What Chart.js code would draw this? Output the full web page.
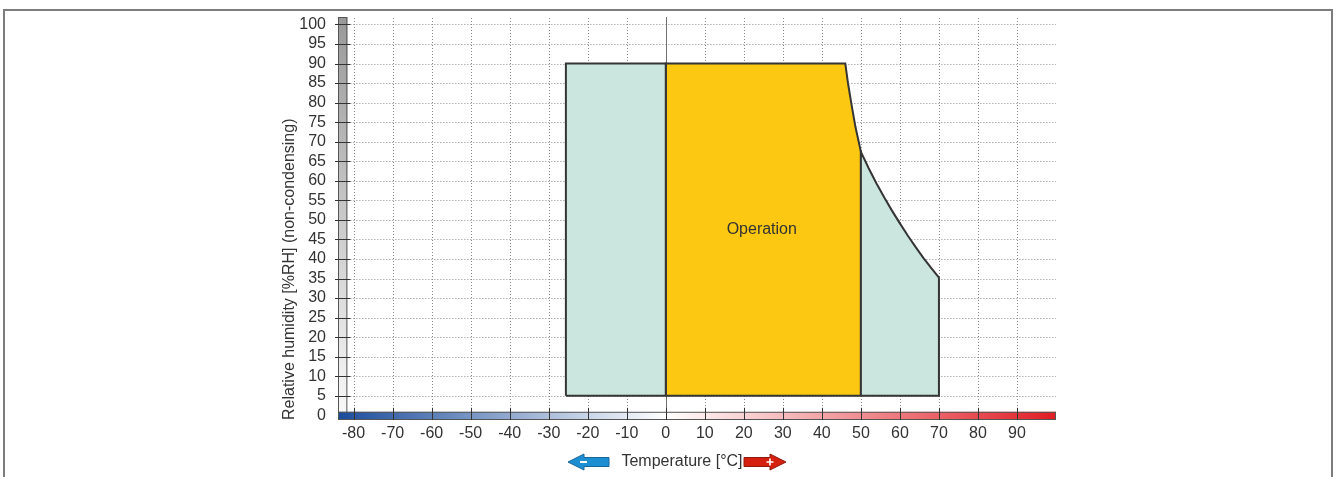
<!DOCTYPE html>
<html>
<head>
<meta charset="utf-8">
<script src="https://cdn.jsdelivr.net/npm/chart.js@4.4.0/dist/chart.umd.min.js"></script>
<style>
  html, body { margin: 0; padding: 0; background: #fff; }
  #wrap { position: relative; width: 1336px; height: 477px; overflow: hidden; }
  #frame { position: absolute; left: 3px; top: 9px; width: 1326px; height: 500px;
           border-top: 2px solid #7d7d7d; border-left: 2px solid #7d7d7d; border-right: 2px solid #7d7d7d; }
  canvas { position: absolute; left: 0; top: 0; }
</style>
</head>
<body>
<div id="wrap">
  <div id="frame"></div>
  <canvas id="c" width="1336" height="477"></canvas>
</div>
<script>
// ---- data ----
const xTicks = [-80, -70, -60, -50, -40, -30, -20, -10, 0, 10, 20, 30, 40, 50, 60, 70, 80, 90];
const yTicks = [0, 5, 10, 15, 20, 25, 30, 35, 40, 45, 50, 55, 60, 65, 70, 75, 80, 85, 90, 95, 100];

// storage (left part)
const storeLeftT  = [-25.6, -25.6, 0, 0, -25.6];
const storeLeftRH = [5, 90, 90, 5, 5];

// operation area
const operT  = [0, 0, 46, 46.7, 47.7, 48.6, 50, 50, 0];
const operRH = [5, 90, 90, 84.9, 78.9, 73.8, 67.4, 5, 5];

// storage (right part)
const storeRightT  = [50, 50, 52, 54, 56, 58, 60, 62, 64, 66, 68, 70, 70, 50];
const storeRightRH = [5, 67.4, 63.2, 59.3, 55.7, 52.3, 49.1, 46.0, 43.1, 40.3, 37.7, 35.2, 5, 5];

const areaLabel = 'Operation';
const areaLabelT = 24.6, areaLabelRH = 47.6;

const xTitle = 'Temperature [°C]';
const yTitle = 'Relative humidity [%RH] (non-condensing)';

const xMin = -84, xMax = 100, yMin = -1.2, yMax = 101.9;
const humBarEnd = -81.6;   // right edge of humidity scale bar (°C)
const tempBarTop = 0.9;    // top edge of temperature scale bar (%RH)

const FONT = "'Liberation Sans', Arial, sans-serif";
const TEXT = '#333';

function pts(xs, ys) { return xs.map((v, i) => ({x: v, y: ys[i]})); }

const decor = {
  id: 'decor',
  beforeDatasetsDraw(chart) {
    const {ctx, chartArea: a, scales: {x, y}} = chart;
    ctx.save();
    const gL = a.left, gR = x.getPixelForValue(humBarEnd);
    const tT = y.getPixelForValue(tempBarTop), tB = a.bottom;

    // dotted grid
    ctx.strokeStyle = '#8a8a8a'; ctx.lineWidth = 1; ctx.setLineDash([1, 2]);
    xTicks.forEach(v => {
      if (v === 0) return;
      const px = Math.round(x.getPixelForValue(v)) + 0.5;
      ctx.beginPath(); ctx.moveTo(px, a.top + 1); ctx.lineTo(px, tT); ctx.stroke();
    });
    yTicks.forEach(v => {
      if (v === 0) return;
      const py = Math.round(y.getPixelForValue(v)) + 0.5;
      ctx.beginPath(); ctx.moveTo(gR + 3, py); ctx.lineTo(a.right, py); ctx.stroke();
    });
    ctx.setLineDash([]);

    // zero line
    const x0 = Math.round(x.getPixelForValue(0)) + 0.5;
    ctx.strokeStyle = '#707070'; ctx.lineWidth = 1;
    ctx.beginPath(); ctx.moveTo(x0, a.top); ctx.lineTo(x0, a.bottom); ctx.stroke();

    // humidity bar (gray gradient)
    const gT = a.top, gB = a.bottom;
    let g = ctx.createLinearGradient(0, gT, 0, gB);
    g.addColorStop(0, '#999999'); g.addColorStop(1, '#fafafa');
    ctx.fillStyle = g;
    ctx.fillRect(gL, gT, gR - gL, gB - gT);
    ctx.strokeStyle = '#555'; ctx.lineWidth = 1;
    ctx.strokeRect(gL + 0.5, gT + 0.5, gR - gL - 1, gB - gT - 1);

    // temperature bar (blue-white-red)
    g = ctx.createLinearGradient(a.left, 0, a.right, 0);
    const z = (0 - xMin) / (xMax - xMin);
    g.addColorStop(0, '#1b4c9b');
    g.addColorStop(z, '#ffffff');
    g.addColorStop(1, '#e11d25');
    ctx.fillStyle = g;
    ctx.fillRect(a.left, tT, a.right - a.left, tB - tT);
    ctx.strokeStyle = '#555';
    ctx.strokeRect(a.left + 0.5, tT + 0.5, a.right - a.left - 1, tB - tT - 1);

    // tick marks through bars
    ctx.strokeStyle = '#333'; ctx.lineWidth = 1;
    yTicks.forEach(v => {
      if (v === 0) return;
      const py = Math.round(y.getPixelForValue(v)) + 0.5;
      ctx.beginPath(); ctx.moveTo(gL - 3, py); ctx.lineTo(gR + 3, py); ctx.stroke();
    });
    xTicks.forEach(v => {
      const px = Math.round(x.getPixelForValue(v)) + 0.5;
      ctx.beginPath(); ctx.moveTo(px, tT - 4); ctx.lineTo(px, tB); ctx.stroke();
    });
    ctx.restore();
  },
  afterDraw(chart) {
    const {ctx, scales: {x, y}} = chart;
    ctx.save();
    ctx.fillStyle = TEXT;
    ctx.font = '16px ' + FONT;
    ctx.textAlign = 'center'; ctx.textBaseline = 'middle';
    ctx.fillText(areaLabel, x.getPixelForValue(areaLabelT), y.getPixelForValue(areaLabelRH));

    // x title with arrows
    const cy = 462;
    ctx.fillText(xTitle, 682, cy);
    // blue arrow (left)
    ctx.beginPath();
    ctx.moveTo(568, cy); ctx.lineTo(584, cy - 8); ctx.lineTo(584, cy - 4.5); ctx.lineTo(609, cy - 4.5);
    ctx.lineTo(609, cy + 4.5); ctx.lineTo(584, cy + 4.5); ctx.lineTo(584, cy + 8); ctx.closePath();
    ctx.fillStyle = '#1c8fd3'; ctx.fill();
    ctx.strokeStyle = '#17669a'; ctx.lineWidth = 1; ctx.stroke();
    ctx.strokeStyle = '#fff'; ctx.lineWidth = 2;
    ctx.beginPath(); ctx.moveTo(580, cy); ctx.lineTo(587, cy); ctx.stroke();
    // red arrow (right)
    ctx.beginPath();
    ctx.moveTo(786, cy); ctx.lineTo(770, cy - 8); ctx.lineTo(770, cy - 4.5); ctx.lineTo(744, cy - 4.5);
    ctx.lineTo(744, cy + 4.5); ctx.lineTo(770, cy + 4.5); ctx.lineTo(770, cy + 8); ctx.closePath();
    ctx.fillStyle = '#d6200f'; ctx.fill();
    ctx.strokeStyle = '#8e1a10'; ctx.lineWidth = 1; ctx.stroke();
    ctx.strokeStyle = '#fff'; ctx.lineWidth = 1.6;
    ctx.beginPath(); ctx.moveTo(766.5, cy); ctx.lineTo(773.5, cy);
    ctx.moveTo(770, cy - 3.5); ctx.lineTo(770, cy + 3.5); ctx.stroke();
    ctx.restore();
  }
};

const common = {
  showLine: true, pointRadius: 0, borderWidth: 2, borderColor: '#353535',
  borderJoinStyle: 'miter', tension: 0, fill: 'shape'
};

new Chart(document.getElementById('c'), {
  type: 'line',
  data: {
    datasets: [
      Object.assign({label: 'Storage', data: pts(storeLeftT, storeLeftRH), backgroundColor: '#cbe6de'}, common),
      Object.assign({label: 'Storage 2', data: pts(storeRightT, storeRightRH), backgroundColor: '#cbe6de'}, common),
      Object.assign({label: 'Operation', data: pts(operT, operRH), backgroundColor: '#fcc812'}, common)
    ]
  },
  options: {
    responsive: false, animation: false, devicePixelRatio: 1,
    layout: { padding: { left: 275, right: 280, top: 17, bottom: 0 } },
    plugins: { legend: { display: false }, tooltip: { enabled: false } },
    scales: {
      x: {
        type: 'linear', min: xMin, max: xMax,
        afterBuildTicks: s => { s.ticks = xTicks.map(v => ({value: v})); },
        afterFit: s => { s.height = 57; s.paddingLeft = 0; s.paddingRight = 0; },
        grid: { display: false, drawTicks: false },
        border: { display: false },
        ticks: { color: TEXT, font: { size: 16, family: FONT }, padding: 4, maxRotation: 0, autoSkip: false }
      },
      y: {
        type: 'linear', min: yMin, max: yMax,
        afterBuildTicks: s => { s.ticks = yTicks.map(v => ({value: v})); },
        afterFit: s => { s.width = 63; s.paddingTop = 0; s.paddingBottom = 0; },
        grid: { display: false, drawTicks: false },
        border: { display: false },
        ticks: { color: TEXT, font: { size: 16, family: FONT }, padding: 12, autoSkip: false },
        title: { display: true, text: yTitle, color: TEXT, align: 'start',
                 font: { size: 16, family: FONT }, padding: { top: 5, bottom: 0 } }
      }
    }
  },
  plugins: [decor]
});
</script>
</body>
</html>
